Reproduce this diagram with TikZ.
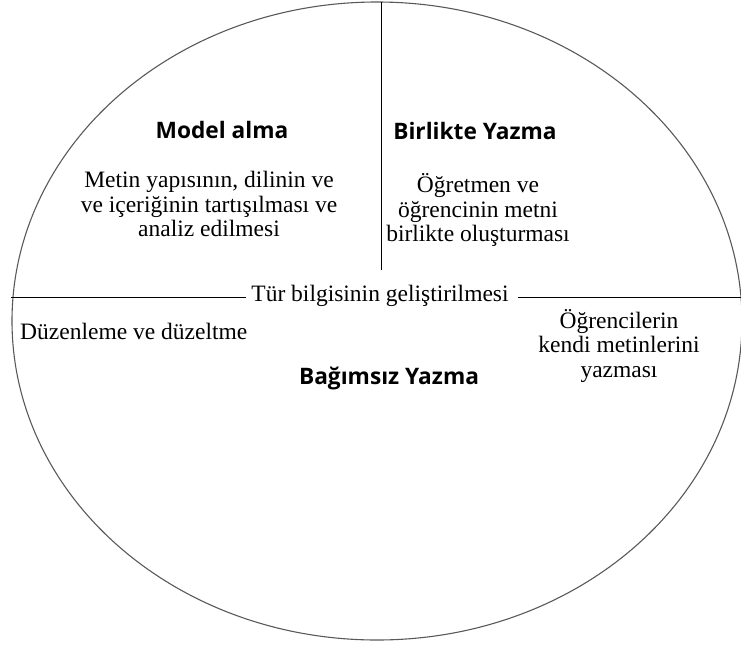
\documentclass[tikz,border=0pt]{standalone}
\usepackage{fontspec}
\setmainfont{Liberation Serif}
\newfontfamily\headfont{Open Sans}
\begin{document}
\begin{tikzpicture}[x=1pt,y=-1pt,
  body/.style={font=\fontsize{23.5}{24.5}\selectfont, align=center, inner sep=0pt},
  head/.style={font=\headfont\bfseries\fontsize{22.7}{26}\selectfont, inner sep=0pt},
  divider/.style={line width=1pt, black},
  rim/.style={line width=1.1pt, black!65}]
\useasboundingbox (0,0) rectangle (741,648);
\draw[rim] (377,321) ellipse [x radius=365, y radius=319];
\coordinate (vtop) at (381,2);
\coordinate (vbot) at (381,270);
\draw[divider] (vtop) -- (vbot);
\node[body] (tur) at (380,296) {Tür bilgisinin geliştirilmesi};
\coordinate (hl) at (11,297);
\coordinate (hr) at (741,297);
\draw[divider] (hl) -- ([xshift=-5pt]tur.west |- hl);
\draw[divider] ([xshift=9pt]tur.east |- hr) -- (hr);
\node[head] (model) at (222,130) {Model alma};
\node[body] (modeltxt) at (209,204) {Metin yapısının, dilinin ve\\ve içeriğinin tartışılması ve\\analiz edilmesi};
\node[head] (birlikte) at (475,131) {Birlikte Yazma};
\node[body] (birliktetxt) at (478,210) {Öğretmen ve\\öğrencinin metni\\birlikte oluşturması};
\node[body, anchor=west] (duzen) at (20,331) {Düzenleme ve düzeltme};
\node[head] (bagimsiz) at (389,378) {Bağımsız Yazma};
\node[body] (ogr) at (619,346) {Öğrencilerin\\kendi metinlerini\\yazması};
\end{tikzpicture}
\end{document}
